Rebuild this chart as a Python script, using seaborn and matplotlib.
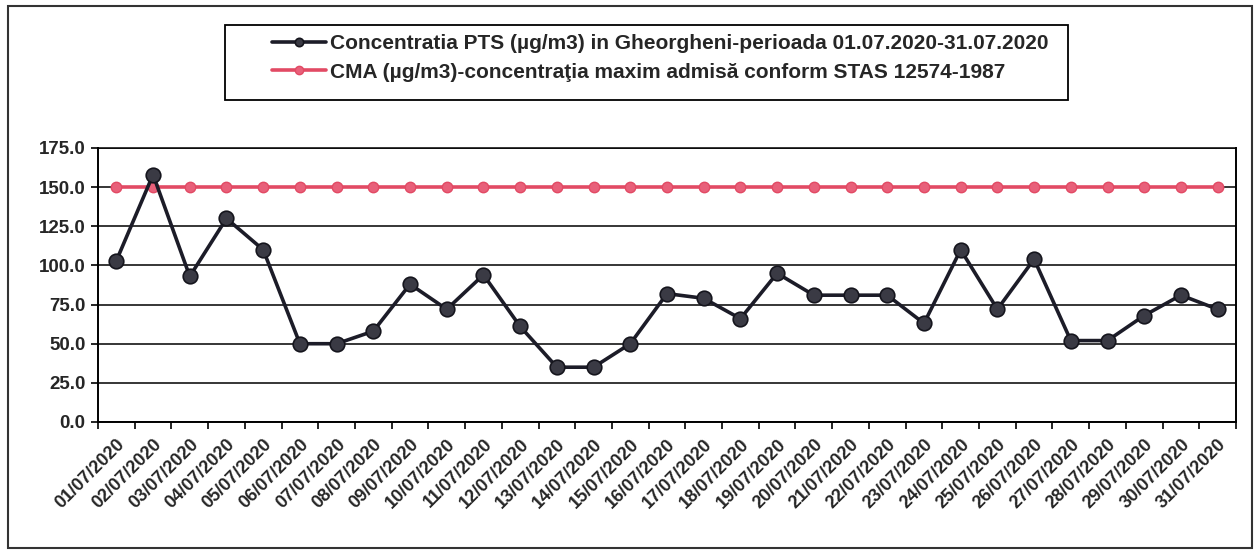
import matplotlib
matplotlib.use("Agg")
import matplotlib.pyplot as plt
from matplotlib.patches import Rectangle
from matplotlib.ticker import FormatStrFormatter, FixedLocator
from matplotlib.transforms import ScaledTranslation
import seaborn as sns
import pandas as pd

dates = [f"{d:02d}/07/2020" for d in range(1, 32)]
pts = [103, 158, 93, 130, 110, 50, 50, 58, 88, 72, 94, 61, 35, 35, 50, 82,
       79, 66, 95, 81, 81, 81, 63, 110, 72, 104, 52, 52, 68, 81, 72]
cma = [150] * 31
label_pts = "Concentratia PTS (µg/m3) in Gheorgheni-perioada 01.07.2020-31.07.2020"
label_cma = "CMA (µg/m3)-concentraţia maxim admisă conform STAS 12574-1987"
yticks = [0, 25, 50, 75, 100, 125, 150, 175]

sns.set_theme(style="white")
plt.rcParams['font.family'] = ['Liberation Sans', 'DejaVu Sans']

df = pd.DataFrame({"date": dates, "pts": pts, "cma": cma})

W, H = 1260, 554
fig = plt.figure(figsize=(W / 100, H / 100), dpi=100)
ax = fig.add_axes([98 / W, 1 - 422 / H, (1236 - 98) / W, (422 - 148) / H])

sns.lineplot(data=df, x="date", y="pts", sort=False, ax=ax, color="#1c1c28",
             lw=2.6, marker="o", markersize=10.5, markerfacecolor="#3a3a44",
             markeredgecolor="#15151d", markeredgewidth=1.2, label=label_pts, zorder=4)
sns.lineplot(data=df, x="date", y="cma", sort=False, ax=ax, color="#e24a64",
             lw=2.6, marker="o", markersize=7.5, markerfacecolor="#e8607a",
             markeredgecolor="#e24a64", markeredgewidth=1.0, label=label_cma, zorder=3)

ax.set_xlim(-0.5, len(dates) - 0.5)
ax.set_ylim(0, 175)
ax.set_yticks(yticks)
ax.yaxis.set_major_formatter(FormatStrFormatter("%.1f"))
ax.set_xticks(range(len(dates)))
ax.set_xticklabels(dates, rotation=45, ha="right", rotation_mode="anchor",
                   fontsize=13, fontweight="bold")
offset = ScaledTranslation(-15 / 100, 0, fig.dpi_scale_trans)
for t in ax.get_xticklabels():
    t.set_transform(t.get_transform() + offset)
ax.xaxis.set_minor_locator(FixedLocator([i - 0.5 for i in range(len(dates) + 1)]))
ax.tick_params(axis="x", which="major", length=0, pad=10)
ax.tick_params(axis="x", which="minor", length=5, width=1.2, color="black", bottom=True)
ax.tick_params(axis="y", length=5, width=1.2, color="black", left=True, pad=4,
               labelsize=13.5)
for t in ax.get_yticklabels():
    t.set_fontweight("bold")
ax.set_xlabel("")
ax.set_ylabel("")
ax.grid(axis="y", color="black", lw=1.1)
ax.grid(axis="x", visible=False)
for s in ["left", "bottom", "right"]:
    ax.spines[s].set_visible(True)
    ax.spines[s].set_color("black")
    ax.spines[s].set_linewidth(1.4)
ax.spines["top"].set_visible(True)
ax.spines["top"].set_color("black")
ax.spines["top"].set_linewidth(1.1)

ax.get_legend().remove()
handles, labels = ax.get_legend_handles_labels()
leg = fig.legend(handles, labels, loc="upper left",
                 bbox_to_anchor=(266 / W, 1 - 28 / H), frameon=False,
                 prop={"weight": "bold", "size": 15}, handlelength=2.6,
                 handletextpad=0.15, borderpad=0.3, labelspacing=0.45,
                 borderaxespad=0)
for h in leg.legend_handles:
    h.set_markersize(6)

fig.patches.append(Rectangle((225 / W, 1 - 100 / H), (1068 - 225) / W, 75 / H,
                             transform=fig.transFigure, fill=False,
                             edgecolor="black", lw=1.3))
fig.patches.append(Rectangle((8 / W, 6 / H), 1244 / W, 542 / H,
                             transform=fig.transFigure, fill=False,
                             edgecolor="#333333", lw=1.5))

fig.savefig("out.png", dpi=100)
